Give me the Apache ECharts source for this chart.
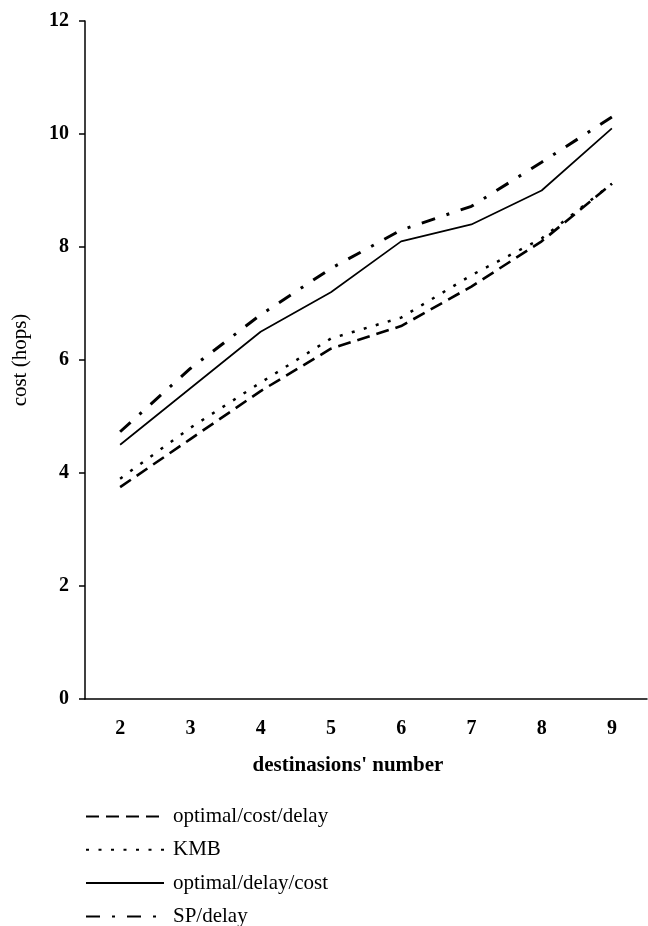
<!DOCTYPE html>
<html>
<head>
<meta charset="utf-8">
<script src="https://cdn.jsdelivr.net/npm/echarts@6/dist/echarts.min.js"></script>
<style>
  html, body { margin: 0; padding: 0; background: #fff; }
  #main { width: 648px; height: 926px; }
</style>
</head>
<body>
<div id="main"></div>
<script>
// destinations on x, cost in hops on y
var categories = ['2', '3', '4', '5', '6', '7', '8', '9'];
var optCostDelay = [3.75, 4.6, 5.45, 6.2, 6.6, 7.3, 8.1, 9.12];
var kmb = [3.9, 4.8, 5.6, 6.38, 6.75, 7.5, 8.15, 9.12];
var optDelayCost = [4.5, 5.5, 6.5, 7.2, 8.1, 8.4, 9.0, 10.1];
var spDelay = [4.73, 5.85, 6.8, 7.62, 8.3, 8.72, 9.5, 10.3];
var seriesNames = ['optimal/cost/delay', 'KMB', 'optimal/delay/cost', 'SP/delay'];

var serif = '"Liberation Serif", "DejaVu Serif", serif';

// one legend per row, otherwise the bottom rows wrap into a second column
var legends = seriesNames.map(function (n, i) {
  return {
    orient: 'vertical',
    left: 85,
    top: 806 + i * 33.3,
    padding: 0,
    itemWidth: 78,
    itemHeight: 14,
    itemStyle: { opacity: 0 },
    textStyle: { fontFamily: serif, fontSize: 21, color: '#000', padding: [0, 0, 0, 4] },
    data: [n]
  };
});

var chart = echarts.init(document.getElementById('main'));
chart.setOption({
  backgroundColor: '#fff',
  animation: false,
  grid: { left: 85, right: 1, top: 21, bottom: 227 },
  legend: legends,
  xAxis: [{
    type: 'category',
    data: categories,
    name: "destinasions' number",
    nameLocation: 'middle',
    nameGap: 56,
    nameTextStyle: { fontFamily: serif, fontSize: 21, fontWeight: 'bold', color: '#000', padding: [0, 36, 0, 0] },
    axisLine: { lineStyle: { color: '#000', width: 1.5 } },
    axisTick: { length: 5, lineStyle: { color: '#000', width: 1.5 } },
    axisLabel: { margin: 20, fontFamily: serif, fontSize: 20, fontWeight: 'bold', color: '#000' }
  }, {
    type: 'category',
    data: categories,
    position: 'bottom',
    axisLine: { show: false },
    axisTick: { alignWithLabel: true, length: 5, lineStyle: { color: '#000', width: 1.5 } },
    axisLabel: { show: false }
  }],
  yAxis: {
    type: 'value',
    min: 0,
    max: 12,
    interval: 2,
    name: 'cost (hops)',
    nameLocation: 'middle',
    nameGap: 54,
    nameTextStyle: { fontFamily: serif, fontSize: 21, color: '#000' },
    axisLine: { show: true, lineStyle: { color: '#000', width: 1.5 } },
    axisTick: { show: true, length: 6, lineStyle: { color: '#000', width: 1.5 } },
    splitLine: { show: false },
    axisLabel: { margin: 16, fontFamily: serif, fontSize: 20, fontWeight: 'bold', color: '#000' }
  },
  series: [{
    name: seriesNames[0],
    type: 'line',
    data: optCostDelay,
    symbol: 'none',
    lineStyle: { color: '#000', width: 2.6, type: [13, 7] },
    itemStyle: { color: '#000' }
  }, {
    name: seriesNames[1],
    type: 'line',
    data: kmb,
    symbol: 'none',
    lineStyle: { color: '#000', width: 2.5, type: [3, 9.5] },
    itemStyle: { color: '#000' }
  }, {
    name: seriesNames[2],
    type: 'line',
    data: optDelayCost,
    symbol: 'none',
    lineStyle: { color: '#000', width: 1.7, type: 'solid' },
    itemStyle: { color: '#000' }
  }, {
    name: seriesNames[3],
    type: 'line',
    data: spDelay,
    symbol: 'none',
    lineStyle: { color: '#000', width: 3, type: [14, 12, 3, 12] },
    itemStyle: { color: '#000' }
  }]
});
</script>
</body>
</html>
